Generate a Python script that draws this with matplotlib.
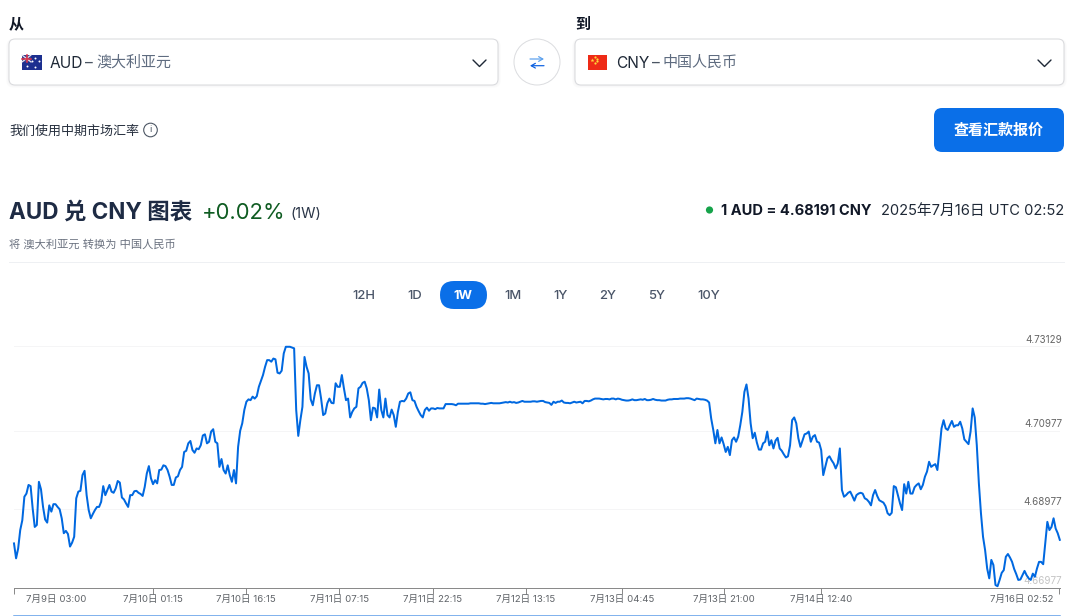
"""AUD to CNY converter panel with the one-week rate chart."""

import numpy as np
import matplotlib
matplotlib.use("Agg")
import matplotlib.pyplot as plt
from matplotlib.patches import Circle, FancyBboxPatch, Rectangle
from matplotlib.transforms import ScaledTranslation

plt.rcParams["font.family"] = ["Inter", "Noto Sans CJK SC", "DejaVu Sans"]

W, H, DPI = 1080, 616, 100
PT = 72 / DPI  # one screen pixel in points

BLUE = "#0a6fe8"
LINE = "#0068e0"

# rate sampled every 20 minutes from 7月9日 03:00
rate = [
    4.6810, 4.6772, 4.6797, 4.6844, 4.6869, 4.6929, 4.6937, 4.6959, 4.6956, 4.6899,
    4.6852, 4.6857, 4.6967, 4.6948, 4.6903, 4.6871, 4.6863, 4.6907, 4.6891, 4.6910,
    4.6910, 4.6903, 4.6897, 4.6874, 4.6836, 4.6842, 4.6834, 4.6802, 4.6812, 4.6827,
    4.6925, 4.6942, 4.6944, 4.6984, 4.6995, 4.6933, 4.6895, 4.6874, 4.6885, 4.6895,
    4.6903, 4.6903, 4.6916, 4.6956, 4.6933, 4.6946, 4.6959, 4.6942, 4.6939, 4.6950,
    4.6969, 4.6965, 4.6927, 4.6922, 4.6912, 4.6903, 4.6933, 4.6933, 4.6943, 4.6944,
    4.6939, 4.6936, 4.6931, 4.6954, 4.6988, 4.7007, 4.6976, 4.6961, 4.6971, 4.6963,
    4.6997, 4.6998, 4.7009, 4.7007, 4.6997, 4.6980, 4.6959, 4.6959, 4.6978, 4.6981,
    4.6997, 4.7005, 4.7043, 4.7046, 4.7065, 4.7071, 4.7048, 4.7041, 4.7052, 4.7050,
    4.7060, 4.7085, 4.7088, 4.7065, 4.7069, 4.7095, 4.7101, 4.7069, 4.7065, 4.7005,
    4.7025, 4.6997, 4.6988, 4.7009, 4.6984, 4.6967, 4.6997, 4.6963, 4.7056, 4.7097,
    4.7116, 4.7150, 4.7171, 4.7177, 4.7175, 4.7184, 4.7179, 4.7185, 4.7209, 4.7224,
    4.7239, 4.7260, 4.7277, 4.7277, 4.7273, 4.7281, 4.7279, 4.7245, 4.7243, 4.7250,
    4.7294, 4.7311, 4.7311, 4.7311, 4.7309, 4.7307, 4.7150, 4.7084, 4.7124, 4.7158,
    4.7285, 4.7260, 4.7243, 4.7177, 4.7162, 4.7192, 4.7213, 4.7213, 4.7179, 4.7137,
    4.7141, 4.7167, 4.7179, 4.7168, 4.7167, 4.7218, 4.7209, 4.7209, 4.7239, 4.7205,
    4.7175, 4.7179, 4.7131, 4.7145, 4.7154, 4.7158, 4.7205,
    4.7209, 4.7219, 4.7222, 4.7205, 4.7175, 4.7124, 4.7156, 4.7154, 4.7131, 4.7202,
    4.7150, 4.7131, 4.7179, 4.7137, 4.7131, 4.7151, 4.7137, 4.7107, 4.7145, 4.7171,
    4.7173, 4.7172, 4.7179, 4.7192, 4.7195, 4.7175, 4.7173, 4.7158, 4.7147, 4.7137,
    4.7131, 4.7150, 4.7156, 4.7148, 4.7154, 4.7154, 4.7152, 4.7155, 4.7154, 4.7154,
    4.7154,
    4.7165, 4.7165, 4.7165, 4.7165, 4.7164, 4.7162, 4.7166, 4.7166, 4.7166, 4.7166,
    4.7166, 4.7166, 4.7167, 4.7167, 4.7167, 4.7167, 4.7167, 4.7166, 4.7166, 4.7165,
    4.7166, 4.7167, 4.7168, 4.7167, 4.7167, 4.7167, 4.7167, 4.7168, 4.7169, 4.7170,
    4.7169, 4.7171, 4.7169, 4.7170, 4.7168, 4.7169, 4.7171, 4.7173, 4.7171, 4.7171,
    4.7171, 4.7171, 4.7172, 4.7172, 4.7171, 4.7172, 4.7173, 4.7173, 4.7170, 4.7169,
    4.7168, 4.7163, 4.7171, 4.7168, 4.7171, 4.7171, 4.7174, 4.7169, 4.7168, 4.7168,
    4.7167, 4.7169, 4.7171, 4.7169, 4.7170, 4.7171, 4.7167, 4.7173, 4.7173, 4.7172,
    4.7174, 4.7177, 4.7179, 4.7179, 4.7179, 4.7178, 4.7177, 4.7178, 4.7178, 4.7177,
    4.7179, 4.7179, 4.7177, 4.7179, 4.7178, 4.7176, 4.7175, 4.7174, 4.7174, 4.7175,
    4.7177, 4.7175, 4.7175, 4.7176, 4.7177, 4.7176, 4.7178, 4.7175, 4.7175, 4.7176,
    4.7178, 4.7176, 4.7175, 4.7175, 4.7174, 4.7174, 4.7174, 4.7176, 4.7177, 4.7177,
    4.7178, 4.7178, 4.7178, 4.7179, 4.7179, 4.7179, 4.7180, 4.7180, 4.7179, 4.7177,
    4.7175, 4.7179, 4.7178, 4.7177, 4.7177, 4.7176, 4.7174, 4.7169, 4.7128, 4.7099,
    4.7065, 4.7099, 4.7065,
    4.7080, 4.7063, 4.7043, 4.7056, 4.7035, 4.7073, 4.7080, 4.7069, 4.7082, 4.7111,
    4.7145, 4.7196, 4.7215, 4.7179, 4.7116, 4.7078, 4.7092, 4.7067, 4.7049, 4.7049,
    4.7065, 4.7069, 4.7095, 4.7060, 4.7073, 4.7052, 4.7072, 4.7079, 4.7052, 4.7046,
    4.7037, 4.7029, 4.7032, 4.7060, 4.7124, 4.7131, 4.7116, 4.7078, 4.7056, 4.7072,
    4.7088, 4.7090, 4.7095, 4.7069, 4.7082, 4.7086, 4.7069, 4.7067, 4.7048, 4.6984,
    4.7005, 4.7027, 4.7032, 4.7022, 4.7014, 4.7001, 4.7014, 4.7052, 4.6946, 4.6929,
    4.6933, 4.6939, 4.6942, 4.6931, 4.6919, 4.6933, 4.6937, 4.6939, 4.6937, 4.6925,
    4.6922, 4.6916, 4.6907, 4.6933, 4.6946, 4.6931, 4.6920, 4.6917, 4.6914, 4.6905,
    4.6887, 4.6882, 4.6888, 4.6956, 4.6953, 4.6933, 4.6912, 4.6895, 4.6961, 4.6937,
    4.6967, 4.6937, 4.6937, 4.6953, 4.6959, 4.6963, 4.6948, 4.6959, 4.6980, 4.6993,
    4.7018, 4.7005, 4.7009, 4.7012, 4.6997, 4.7048, 4.7103, 4.7124, 4.7103, 4.7099,
    4.7111, 4.7122, 4.7107, 4.7111, 4.7111, 4.7120, 4.7103, 4.7075, 4.7069, 4.7063,
    4.7095, 4.7154, 4.7131, 4.7060, 4.6963, 4.6887, 4.6827, 4.6793, 4.6746, 4.6721,
    4.6768, 4.6755, 4.6704, 4.6701, 4.6717, 4.6735, 4.6742, 4.6776, 4.6783, 4.6774,
    4.6763, 4.6745, 4.6732, 4.6717, 4.6718, 4.6729, 4.6740, 4.6729, 4.6721, 4.6717,
    4.6733, 4.6725, 4.6746, 4.6763, 4.6763, 4.6757, 4.6810, 4.6865, 4.6844, 4.6852,
    4.6874, 4.6848, 4.6836, 4.68191,
]
step_hours = 1 / 3

# hours after 7月9日 03:00
tick_hours = [0, 22.25, 37.25, 52.25, 67.25, 82.25, 97.75, 114, 129.67, 167.87]
tick_labels = ["7月9日 03:00", "7月10日 01:15", "7月10日 16:15", "7月11日 07:15", "7月11日 22:15",
               "7月12日 13:15", "7月13日 04:45", "7月13日 21:00", "7月14日 12:40", "7月16日 02:52"]
y_ticks = [4.66977, 4.68977, 4.70977, 4.73129]

ranges = ["12H", "1D", "1W", "1M", "1Y", "2Y", "5Y", "10Y"]
range_x = [364, 415, 463, 513, 561, 608, 657, 709]

fig = plt.figure(figsize=(W / DPI, H / DPI), dpi=DPI, facecolor="white")

# page furniture, laid out in screen pixels
ui = fig.add_axes([0, 0, 1, 1])
ui.set_xlim(0, W)
ui.set_ylim(H, 0)
ui.axis("off")


def label(x, y, s, px, color="#1f2937", weight="normal", ha="left", **kw):
    ui.text(x, y, s, fontsize=px * PT, color=color, fontweight=weight, ha=ha, va="center", **kw)


def box(x0, y0, x1, y1, r, face="white", edge="none", lw=1.0, z=1):
    ui.add_patch(FancyBboxPatch((x0 + r, y0 + r), x1 - x0 - 2 * r, y1 - y0 - 2 * r,
                                boxstyle=f"round,pad={r},rounding_size={r}",
                                fc=face, ec=edge, lw=lw * PT, zorder=z))


def chevron(x):
    ui.plot([x, x + 6.5, x + 13], [60, 66.5, 60], color="#1f2937", lw=1.4 * PT,
            solid_capstyle="round", solid_joinstyle="round", zorder=3)


def swap_arrow(x0, x1, y, color):
    ui.annotate("", xy=(x1, y), xytext=(x0, y), zorder=3,
                arrowprops=dict(arrowstyle="->,head_width=0.17,head_length=0.3", color=color,
                                lw=1.2 * PT, shrinkA=0, shrinkB=0))


label(9, 25, "从", 15, color="#111827", weight="bold")
label(575, 25, "到", 15, color="#111827", weight="bold")

for x0, x1 in [(9, 498), (575, 1064)]:
    for grow, shade in [(2.5, "#fafafa"), (1.2, "#f4f4f5")]:
        box(x0 - grow, 39, x1 + grow, 85 + grow, 7, face=shade, z=0.5)
    box(x0, 39, x1, 85, 6, edge="#d9dadd")
chevron(473)
chevron(1038)

# Australian flag
ui.add_patch(Rectangle((22, 55), 20, 14.7, fc="#1c2f8f", zorder=2))
ui.add_patch(Rectangle((22, 55), 9, 7, fc="#3a3f8f", zorder=2))
ui.plot([22, 31], [55, 62], color="#e8e8f0", lw=1.2 * PT, zorder=3)
ui.plot([22, 31], [62, 55], color="#e8e8f0", lw=1.2 * PT, zorder=3)
ui.plot([26.5, 26.5], [55, 62], color="#d8334a", lw=1.6 * PT, zorder=4)
ui.plot([22, 31], [58.5, 58.5], color="#d8334a", lw=1.6 * PT, zorder=4)
ui.scatter([26.5, 35, 38.5, 35, 32], [66, 57.5, 61, 67, 61], s=2, c="white", lw=0, zorder=4)

# Chinese flag
ui.add_patch(Rectangle((587.7, 55), 19.5, 14.7, fc="#ee2a16", zorder=2))
ui.scatter([591.5], [60], s=9, c="#ffd83a", marker="*", lw=0, zorder=3)
ui.scatter([595, 596.5, 596.5, 595], [57, 58.7, 61, 62.8], s=2.5, c="#ffd83a", lw=0, zorder=3)

label(50, 63, "AUD", 15.5, color="#1f2937")
label(85, 63, "–", 15.5, color="#4b5563")
label(96.5, 63, "澳大利亚元", 15, color="#5f6c80")
label(616, 63, "CNY", 15.5, color="#1f2937")
label(651.5, 63, "–", 15.5, color="#4b5563")
label(663, 63, "中国人民币", 15, color="#5f6c80")

# swap button
ui.add_patch(Circle((537, 62), 23, fc="white", ec="#dcdde0", lw=1 * PT, zorder=1))
swap_arrow(530, 544, 59, "#5aa0ee")
swap_arrow(544, 530, 65.7, "#0a5fe0")

label(9, 131.5, "我们使用中期市场汇率", 13, color="#27303f")
ui.add_patch(Circle((150.5, 130), 6.8, fc="white", ec="#4b5563", lw=1.1 * PT, zorder=2))
label(150.5, 130, "i", 9.5, color="#4b5563", ha="center", zorder=3)

box(934, 108, 1064, 152, 8, face=BLUE)
label(999, 131, "查看汇款报价", 15, color="white", weight="bold", ha="center", zorder=3)

label(9, 213, "AUD 兑 CNY 图表", 22.5, color="#1e2b44", weight="bold")
label(202, 213, "+0.02%", 22, color="#0f5c22")
label(290, 214.5, "(1W)", 14.6, color="#2b3648")
label(9, 244, "将 澳大利亚元 转换为 中国人民币", 11.2, color="#6b7280")

ui.add_patch(Circle((709.5, 210), 3.6, fc="#16a34a", ec="none", zorder=2))
label(721, 211, "1 AUD = 4.68191 CNY", 14.6, color="#111827", weight="bold")
label(1064, 211, "2025年7月16日 UTC 02:52", 14.7, color="#1f2937", ha="right")

ui.plot([9, 1064], [262, 262], color="#eef0f3", lw=1 * PT)

box(440, 281, 487, 309, 14, face=BLUE)
for name, x in zip(ranges, range_x):
    active = name == "1W"
    label(x, 296, name, 13, color="white" if active else "#4a5568",
          weight="bold" if active else "medium", ha="center", zorder=3)

ui.plot([14, 1060], [615.5, 615.5], color="#5a9be8", lw=1.5 * PT)

# rate chart
PX_PER_HOUR = 6.225
PX_PER_UNIT = 3925
left, right, top, bottom = 14, 14 + 168 * PX_PER_HOUR, 330, 587.5
ax = fig.add_axes([left / W, 1 - bottom / H, (right - left) / W, (bottom - top) / H])
ax.patch.set_alpha(0)

hours = np.arange(len(rate)) * step_hours
ax.plot(hours, rate, color=LINE, lw=2 * PT, solid_joinstyle="round", clip_on=False, zorder=3)

ax.set_xlim(0, 168)
ax.set_ylim(y_ticks[0], y_ticks[0] + (bottom - top) / PX_PER_UNIT)
ax.set_xticks(tick_hours, tick_labels)
ax.set_yticks(y_ticks, [f"{v:.5f}" for v in y_ticks])
ax.yaxis.tick_right()
for side in ["top", "left", "right"]:
    ax.spines[side].set_visible(False)
ax.spines["bottom"].set_color("#8a8a8a")
ax.spines["bottom"].set_linewidth(1 * PT)
ax.grid(axis="y", color="#f5f5f6", lw=1 * PT)
ax.set_axisbelow(True)
ax.tick_params(axis="x", length=6 * PT, width=1 * PT, color="#8a8a8a", labelsize=9.6 * PT,
               labelcolor="#5f6368", pad=1)
ax.tick_params(axis="y", length=0, labelsize=9.8 * PT, labelcolor="#666666", pad=1.5)

# end labels sit inside the axis ends; value labels sit just above their gridlines
px = lambda v: v / DPI
xlabels = ax.get_xticklabels()
xlabels[0].set_transform(xlabels[0].get_transform() + ScaledTranslation(px(42), 0, fig.dpi_scale_trans))
xlabels[-1].set_transform(xlabels[-1].get_transform() + ScaledTranslation(px(-37), 0, fig.dpi_scale_trans))
for lab in ax.get_yticklabels():
    lab.set_ha("right")
    lab.set_va("center")
    lab.set_transform(lab.get_transform() + ScaledTranslation(0, px(6.5), fig.dpi_scale_trans))
ax.get_yticklabels()[0].set_color("#c4c4c4")

fig.savefig("out.png", dpi=DPI)
